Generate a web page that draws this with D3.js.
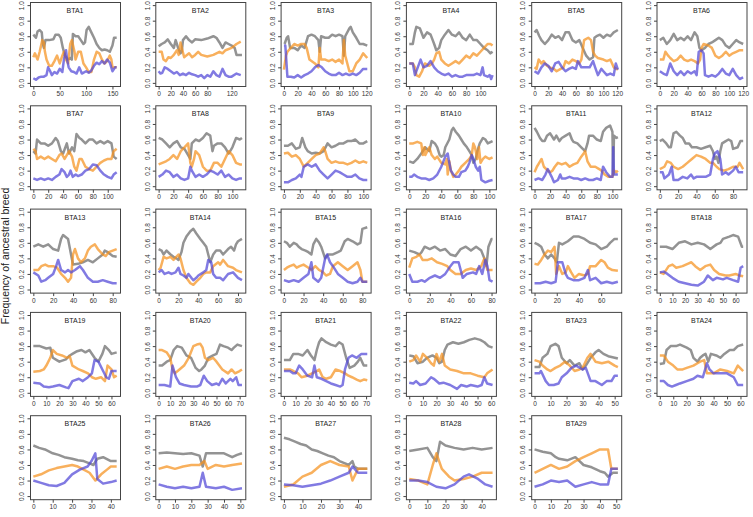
<!DOCTYPE html>
<html><head><meta charset="utf-8">
<script src="https://cdn.jsdelivr.net/npm/d3@7"></script>
<style>body{margin:0;background:#fff}svg{display:block}text{font-family:"Liberation Sans",Arial,sans-serif}</style>
</head><body><svg id="c" width="753" height="517"></svg>
<script>
const chromNames = ["BTA1","BTA2","BTA3","BTA4","BTA5","BTA6","BTA7","BTA8","BTA9","BTA10","BTA11","BTA12","BTA13","BTA14","BTA15","BTA16","BTA17","BTA18","BTA19","BTA20","BTA21","BTA22","BTA23","BTA24","BTA25","BTA26","BTA27","BTA28","BTA29"];
const chromLengths = [158,137,121,117,121,120,112,113,105,104,107,91,84,84,85,81,75,66,64,72,71,61,52,62,43,51,45,46,51];
const xTickValues = [
[0,50,100,150],[0,20,40,60,80,120],[0,20,40,60,80,100,120],[0,20,40,60,80,100],[0,20,40,60,80,100,120],[0,20,40,60,80,100,120],
[0,20,40,60,80,100],[0,20,40,60,80,100],[0,20,40,60,80,100],[0,20,40,60,80,100],[0,20,40,60,80,100],[0,20,40,60,80],
[0,20,40,60,80],[0,20,40,60,80],[0,20,40,60,80],[0,20,40,60,80],[0,20,40,60],[0,10,20,30,40,50,60],
[0,10,20,30,40,50,60],[0,10,20,30,40,50,60,70],[0,10,20,30,40,50,60,70],[0,10,20,30,40,50,60],[0,10,20,30,40,50],[0,10,20,30,40,50,60],
[0,10,20,30,40],[0,10,20,30,40,50],[0,10,20,30,40],[0,10,20,30,40],[0,10,20,30,40,50]];
const yTickValues = [0,0.2,0.4,0.6,0.8,1.0];

// flattened [position(Mb), frequency] pairs
const grayFreq = [
[0,.62,5,.58,8,.66,12,.68,16,.65,18,.5,20,.45,23,.55,30,.55,38,.56,42,.62,48,.62,52,.58,56,.45,60,.35,65,.3,70,.32,73,.3,75,.63,80,.6,85,.6,90,.55,95,.5,98,.52,101,.68,105,.72,110,.65,115,.58,120,.5,125,.45,130,.42,135,.43,140,.42,145,.4,150,.48,153,.58,158,.58],
[0,.47,5,.5,10,.52,15,.56,20,.5,25,.45,28,.55,32,.45,36,.38,38,.4,40,.55,45,.6,50,.55,55,.52,60,.56,70,.55,80,.57,90,.6,95,.58,100,.52,105,.45,110,.52,115,.5,120,.48,125,.45,128,.36,137,.36],
[1,.5,4,.58,6,.6,9,.45,15,.45,20,.42,25,.48,30,.45,35,.6,40,.62,45,.6,50,.55,52,.4,54,.6,60,.58,65,.58,70,.62,75,.6,80,.62,85,.6,87,.35,89,.6,95,.7,97,.72,100,.65,105,.58,110,.5,115,.5,121,.48],
[0,.5,5,.5,8,.65,10,.72,15,.7,20,.58,25,.65,30,.62,35,.5,38,.42,42,.45,45,.55,50,.62,55,.68,60,.62,65,.6,70,.65,75,.58,80,.55,85,.62,90,.55,95,.55,100,.5,105,.45,110,.42,114,.38,117,.4],
[0,.65,3,.68,7,.6,10,.55,15,.5,20,.55,25,.62,30,.58,35,.6,40,.55,45,.65,50,.65,55,.55,60,.52,65,.55,70,.45,75,.35,80,.3,85,.33,87,.58,90,.6,95,.62,100,.58,105,.62,110,.6,115,.65,121,.68],
[0,.55,5,.58,10,.5,15,.55,20,.63,25,.55,30,.58,35,.55,40,.6,45,.55,50,.65,54,.6,57,.45,60,.42,65,.45,70,.5,75,.52,80,.55,85,.58,90,.55,95,.48,100,.45,105,.5,110,.55,115,.52,120,.5],
[0,.45,3,.42,5,.6,10,.55,15,.55,20,.52,25,.55,30,.62,33,.58,37,.45,40,.42,43,.5,45,.55,48,.42,52,.5,55,.45,58,.67,62,.62,65,.6,70,.55,75,.6,80,.6,85,.55,90,.58,95,.55,100,.58,105,.55,108,.38,112,.35],
[0,.62,5,.6,10,.55,15,.5,20,.55,25,.58,30,.5,35,.48,40,.4,43,.35,45,.55,50,.6,55,.58,60,.62,65,.68,70,.65,73,.45,75,.52,80,.55,85,.55,90,.5,95,.42,100,.5,105,.62,110,.6,113,.62],
[0,.52,5,.52,10,.55,15,.48,20,.5,23,.62,27,.5,30,.45,35,.42,40,.43,45,.42,50,.45,55,.55,60,.5,65,.52,70,.55,75,.55,80,.58,85,.58,90,.6,95,.55,100,.55,105,.58],
[0,.32,5,.3,10,.35,15,.42,20,.5,25,.45,28,.58,32,.55,35,.5,38,.4,40,.38,43,.4,45,.5,50,.6,53,.72,55,.75,58,.7,62,.65,65,.6,68,.55,72,.5,75,.45,78,.4,80,.3,83,.35,85,.45,88,.55,92,.62,95,.6,98,.55,104,.58],
[0,.75,3,.7,7,.62,10,.58,13,.58,16,.65,20,.68,25,.6,28,.65,32,.58,35,.62,40,.65,45,.68,48,.6,50,.57,55,.55,60,.5,65,.45,68,.55,70,.65,75,.65,80,.6,85,.58,88,.7,92,.75,97,.78,100,.7,101,.15,102,.65,105,.62,107,.63],
[0,.58,3,.6,7,.55,10,.5,12,.5,15,.68,18,.7,22,.65,25,.62,28,.55,32,.55,35,.5,40,.5,45,.48,50,.5,55,.52,58,.45,60,.35,62,.38,64,.3,66,.45,68,.55,72,.58,75,.6,78,.58,80,.48,85,.5,88,.58,91,.58],
[0,.55,5,.58,10,.55,15,.58,20,.52,25,.5,28,.65,30,.7,35,.65,38,.45,40,.32,45,.33,50,.35,55,.38,60,.35,65,.4,70,.45,72,.5,75,.48,80,.43,84,.42],
[0,.52,3,.5,5,.45,8,.5,12,.45,15,.42,18,.4,20,.38,23,.48,25,.6,28,.68,32,.75,35,.78,38,.72,42,.65,45,.6,48,.55,50,.45,52,.35,55,.45,58,.5,62,.5,65,.45,70,.52,73,.55,76,.5,78,.58,80,.62,84,.65],
[0,.62,3,.6,6,.55,10,.6,13,.58,15,.55,18,.52,22,.5,25,.48,28,.45,30,.58,33,.65,36,.6,38,.55,42,.4,45,.45,50,.45,55,.48,58,.5,62,.62,65,.65,70,.62,75,.58,78,.6,80,.78,85,.8],
[0,.5,5,.48,10,.45,12,.48,15,.55,20,.52,25,.55,30,.5,35,.52,40,.45,45,.43,50,.52,55,.55,60,.5,65,.55,70,.5,73,.4,75,.3,77,.55,80,.65,81,.65],
[0,.6,3,.58,6,.55,9,.45,12,.4,15,.45,18,.4,20,.35,22,.6,25,.58,30,.62,35,.68,40,.68,45,.65,50,.6,55,.58,60,.52,65,.55,68,.6,72,.65,75,.65],
[0,.55,5,.55,10,.52,15,.6,20,.62,25,.58,30,.6,35,.58,40,.52,45,.58,48,.6,50,.65,55,.68,58,.7,62,.68,65,.55,66,.55],
[0,.6,5,.6,10,.57,13,.58,15,.45,18,.42,20,.4,25,.43,28,.48,30,.5,33,.53,37,.55,40,.52,43,.55,47,.45,50,.4,53,.5,55,.6,58,.55,60,.5,64,.52],
[0,.35,3,.35,7,.4,10,.42,13,.55,16,.6,20,.58,24,.48,28,.45,32,.32,35,.28,37,.3,40,.35,43,.45,47,.48,50,.5,53,.62,56,.6,60,.58,63,.55,65,.58,68,.62,72,.6],
[0,.42,5,.42,8,.5,12,.5,16,.48,20,.55,23,.48,26,.42,28,.55,30,.65,32,.7,36,.65,40,.62,44,.6,47,.65,50,.62,53,.45,56,.32,60,.35,63,.4,65,.45,68,.35,71,.35],
[0,.48,3,.47,6,.38,10,.4,13,.45,17,.48,20,.45,22,.38,24,.4,26,.55,28,.62,32,.65,36,.63,40,.65,44,.68,48,.7,52,.68,55,.65,58,.6,61,.58],
[0,.33,3,.33,5,.45,8,.5,10,.6,13,.63,15,.6,17,.45,20,.38,22,.42,25,.35,28,.38,30,.3,32,.35,35,.45,38,.52,40,.55,43,.5,46,.47,50,.45,52,.44],
[0,.37,3,.38,5,.55,8,.6,12,.6,15,.62,20,.58,23,.55,25,.45,28,.4,30,.45,32,.48,34,.5,36,.4,38,.5,42,.48,45,.45,48,.5,52,.55,55,.55,58,.6,62,.62],
[0,.65,3,.62,6,.6,10,.55,13,.53,16,.5,20,.48,23,.46,26,.45,29,.42,31,.4,33,.48,36,.5,40,.45,43,.45],
[0,.55,5,.56,10,.55,15,.54,20,.55,25,.52,27,.38,29,.55,35,.55,40,.55,45,.5,48,.53,51,.55],
[0,.75,3,.73,6,.7,9,.67,12,.65,15,.6,18,.58,21,.55,24,.52,27,.5,30,.45,33,.42,35,.4,37,.45,38,.38,40,.35,45,.35],
[0,.58,5,.6,10,.62,13,.5,15,.45,17,.7,20,.65,25,.62,30,.6,35,.62,40,.6,46,.62],
[0,.6,5,.57,10,.55,13,.5,15,.48,20,.46,25,.5,30,.4,35,.37,40,.32,43,.3,45,.25,48,.3,51,.3]];

const orangeFreq = [
[0,.33,3,.38,8,.3,12,.4,17,.55,20,.52,22,.4,25,.3,30,.22,35,.22,40,.28,45,.35,50,.25,55,.35,58,.4,62,.3,66,.25,70,.5,73,.55,78,.4,80,.3,85,.4,90,.4,95,.25,100,.2,105,.14,110,.14,112,.2,115,.3,120,.4,125,.38,130,.3,135,.25,140,.28,145,.35,148,.3,150,.2,158,.2],
[0,.4,5,.4,8,.3,12,.28,16,.33,20,.32,25,.36,30,.42,33,.36,36,.52,38,.45,42,.33,45,.35,50,.38,55,.33,60,.36,65,.4,70,.36,80,.34,90,.36,95,.38,100,.4,105,.38,110,.42,120,.45,128,.5,135,.53],
[0,.17,3,.35,5,.4,10,.45,15,.5,20,.48,25,.5,30,.5,33,.45,37,.3,45,.25,50,.2,52,.45,54,.3,60,.3,65,.28,70,.3,75,.27,80,.3,85,.25,87,.55,89,.35,95,.15,100,.15,105,.25,110,.3,115,.38,121,.32],
[0,.25,5,.25,8,.2,10,.1,14,.08,18,.15,22,.25,28,.22,32,.25,35,.3,38,.38,42,.4,45,.3,50,.25,55,.22,60,.25,65,.28,70,.25,75,.3,80,.35,85,.32,90,.38,95,.35,100,.4,105,.45,110,.5,114,.5,117,.48],
[0,.2,3,.18,6,.3,10,.25,13,.28,18,.22,22,.2,28,.18,32,.15,38,.18,42,.2,45,.28,50,.25,55,.3,60,.28,65,.25,68,.3,72,.55,78,.58,82,.55,85,.4,88,.35,92,.32,100,.3,105,.28,110,.3,115,.2,121,.17],
[0,.3,5,.3,8,.4,12,.35,15,.32,20,.28,25,.3,30,.35,35,.3,40,.28,45,.3,50,.28,55,.25,58,.3,60,.45,63,.5,70,.48,75,.45,80,.35,85,.32,90,.35,95,.4,100,.35,105,.38,110,.4,115,.42,120,.42],
[0,.48,3,.45,5,.35,10,.38,15,.35,20,.38,25,.35,30,.32,35,.4,38,.42,42,.35,45,.4,48,.45,52,.38,55,.25,58,.2,62,.35,65,.35,70,.25,75,.22,80,.2,85,.25,90,.3,95,.33,100,.35,105,.35,108,.45,112,.48],
[0,.28,5,.3,10,.32,15,.35,20,.4,25,.35,30,.45,35,.5,40,.55,43,.3,45,.25,48,.35,50,.45,55,.4,60,.25,65,.2,70,.2,75,.3,80,.3,85,.25,90,.35,95,.45,100,.4,105,.3,110,.28,113,.28],
[0,.42,5,.43,10,.38,15,.4,20,.35,25,.25,30,.3,35,.35,40,.4,45,.42,50,.5,52,.45,55,.35,60,.3,65,.32,70,.3,75,.3,80,.28,85,.3,90,.33,95,.3,100,.32,105,.3],
[0,.55,5,.55,10,.57,15,.55,17,.4,19,.5,20,.4,25,.5,28,.4,32,.35,35,.38,40,.3,45,.28,47,.35,48,.15,50,.32,52,.2,55,.12,58,.15,62,.2,65,.25,70,.3,75,.35,78,.4,80,.55,82,.5,85,.35,87,.5,89,.3,92,.35,95,.38,100,.35,104,.37],
[0,.18,3,.25,6,.3,9,.35,12,.25,17,.2,20,.18,23,.2,26,.25,30,.3,35,.28,40,.3,45,.25,50,.28,55,.3,60,.38,63,.42,65,.45,68,.32,72,.25,78,.25,83,.22,86,.2,90,.15,95,.12,100,.12,102,.2,105,.18,107,.2],
[0,.22,5,.25,8,.32,12,.3,15,.25,20,.22,25,.25,30,.3,35,.35,40,.4,45,.38,50,.35,55,.3,58,.3,62,.25,65,.22,70,.2,75,.22,80,.25,85,.25,87,.3,91,.22],
[0,.25,5,.25,8,.3,12,.32,15,.3,20,.3,24,.28,28,.2,32,.15,35,.1,38,.15,40,.45,42,.52,45,.4,48,.35,52,.4,55,.5,58,.55,62,.58,65,.52,70,.45,73,.43,76,.48,80,.5,84,.52],
[0,.25,2,.28,5,.42,8,.4,12,.42,15,.38,20,.45,22,.4,25,.25,28,.15,32,.08,35,.06,38,.1,42,.15,45,.2,48,.22,52,.22,55,.3,60,.35,62,.32,65,.38,70,.3,75,.28,78,.25,84,.22],
[0,.25,3,.28,6,.3,10,.32,13,.28,16,.3,20,.32,25,.28,28,.25,32,.3,36,.25,40,.22,43,.18,47,.2,50,.3,55,.35,60,.3,65,.25,70,.3,75,.35,78,.25,80,.1,85,.1],
[0,.28,3,.4,7,.42,10,.45,13,.38,18,.38,22,.4,27,.35,32,.33,37,.3,40,.25,45,.2,50,.2,55,.25,60,.27,65,.25,70,.3,73,.4,76,.25,80,.25,81,.25],
[0,.33,3,.32,6,.38,9,.45,12,.5,15,.48,18,.55,19.5,.2,22,.3,25,.2,28,.22,30,.3,33,.22,36,.15,40,.2,45,.18,48,.2,50,.3,55,.3,60,.38,63,.35,66,.28,70,.25,75,.24],
[0,.22,3,.2,7,.3,10,.32,13,.28,18,.3,22,.33,25,.35,28,.3,32,.25,36,.3,40,.32,43,.25,47,.2,52,.18,55,.18,60,.2,63,.18,66,.17],
[0,.27,5,.28,8,.3,10,.35,13,.45,15,.55,18,.5,22,.48,26,.45,28,.47,30,.35,35,.3,38,.28,42,.25,45,.2,48,.18,52,.2,55,.15,57,.35,60,.3,62,.2,64,.22],
[0,.55,3,.55,7,.52,10,.45,12,.3,14,.25,18,.3,22,.35,26,.45,30,.6,33,.62,36,.63,38,.58,40,.45,43,.42,47,.45,50,.4,55,.3,60,.25,63,.3,66,.25,70,.28,72,.3],
[0,.3,5,.3,8,.28,12,.25,15,.2,20,.22,24,.25,28,.28,30,.3,33,.2,36,.18,40,.2,44,.3,48,.28,52,.25,55,.22,58,.2,62,.17,65,.15,68,.17,71,.16],
[0,.4,3,.42,5,.48,8,.4,10,.5,13,.45,16,.38,18,.35,20,.5,22,.4,24,.5,26,.35,30,.3,35,.28,40,.25,45,.25,50,.22,55,.2,57,.25,61,.3],
[0,.42,3,.4,5,.35,8,.3,10,.28,13,.32,16,.35,19,.4,22,.35,25,.28,28,.3,30,.32,33,.45,35,.5,38,.4,42,.38,46,.4,50,.35,52,.33],
[0,.48,3,.48,6,.4,10,.35,13,.3,17,.3,20,.32,25,.35,28,.38,30,.4,33,.42,35,.25,40,.25,45,.3,50,.28,55,.25,58,.35,62,.28],
[0,.25,4,.28,8,.33,12,.36,16,.38,20,.4,23,.38,26,.34,29,.3,32,.2,35,.28,38,.34,40,.38,43,.38],
[0,.35,5,.38,10,.35,15,.38,20,.4,25,.4,28,.45,30,.35,35,.4,40,.38,45,.4,51,.42],
[0,.12,5,.15,10,.25,15,.3,20,.4,25,.45,30,.4,35,.38,37,.2,40,.35,45,.35],
[0,.22,5,.2,10,.15,13,.4,15,.55,18,.35,22,.25,25,.2,30,.22,35,.25,40,.3,46,.3],
[0,.3,5,.35,10,.4,15,.35,20,.38,25,.45,30,.5,35,.55,40,.6,45,.6,47,.35,51,.35]];

const blueFreq = [
[0,.06,5,.04,10,.07,15,.08,20,.08,25,.1,28,.2,32,.15,35,.1,40,.14,45,.12,50,.18,55,.14,58,.3,62,.42,64,.3,67,.2,72,.15,77,.14,82,.12,87,.2,92,.12,100,.15,105,.13,110,.16,115,.22,120,.26,125,.24,130,.28,135,.25,140,.3,145,.26,150,.15,155,.2,158,.2],
[0,.15,3,.12,6,.13,10,.2,15,.18,20,.15,25,.12,30,.14,35,.1,40,.12,45,.1,50,.13,55,.11,60,.1,65,.08,70,.1,75,.06,80,.1,85,.08,90,.15,95,.1,100,.08,105,.18,110,.1,115,.08,120,.08,128,.12,135,.1],
[0,.48,2,.48,3,.35,5,.08,10,.08,15,.07,20,.1,25,.07,30,.1,35,.12,40,.15,45,.2,50,.23,55,.2,60,.15,65,.12,70,.1,75,.1,80,.13,85,.1,90,.12,95,.1,100,.12,105,.1,110,.13,115,.18,121,.18],
[0,.25,5,.25,8,.1,12,.2,16,.3,20,.2,25,.22,30,.28,35,.2,40,.15,45,.12,50,.1,55,.12,60,.08,65,.1,70,.08,75,.08,80,.1,90,.1,95,.12,100,.1,103,.2,105,.1,110,.08,113,.1,115,.05,117,.1],
[0,.15,5,.12,10,.2,15,.25,20,.22,25,.15,30,.25,35,.27,40,.2,45,.15,50,.18,55,.2,60,.18,63,.28,68,.2,75,.2,80,.2,85,.28,88,.2,92,.1,97,.18,100,.15,105,.1,110,.12,115,.1,118,.25,121,.17],
[0,.15,5,.12,10,.1,15,.25,20,.15,25,.1,30,.15,35,.1,40,.15,45,.12,50,.15,53,.1,56,.4,60,.42,63,.38,65,.1,70,.08,75,.1,80,.08,85,.12,90,.18,95,.12,100,.1,105,.18,110,.1,115,.05,120,.07],
[0,.1,5,.08,10,.1,15,.08,20,.1,25,.08,30,.12,35,.15,38,.22,42,.18,45,.12,48,.15,50,.2,53,.12,57,.15,60,.13,65,.15,70,.2,75,.22,80,.28,85,.27,90,.2,95,.15,100,.12,105,.1,108,.15,112,.18],
[0,.12,5,.15,10,.2,15,.18,20,.12,25,.15,30,.1,35,.08,40,.1,43,.25,45,.2,50,.12,55,.15,60,.12,65,.15,70,.2,75,.18,80,.15,85,.2,90,.12,95,.15,100,.1,105,.08,110,.1,113,.1],
[0,.05,5,.05,10,.08,15,.1,20,.15,22,.12,25,.25,30,.28,35,.25,40,.28,45,.2,50,.15,55,.1,60,.15,65,.2,70,.18,75,.15,80,.12,85,.12,90,.15,95,.1,100,.08,105,.08],
[0,.12,3,.12,6,.15,10,.12,15,.1,20,.1,25,.08,30,.1,35,.15,40,.25,45,.38,48,.42,50,.3,52,.2,55,.15,58,.12,62,.12,65,.18,70,.2,73,.25,75,.3,78,.4,80,.35,83,.25,86,.2,88,.25,90,.08,95,.05,100,.07,104,.08],
[0,.08,5,.1,10,.08,14,.15,17,.22,22,.12,25,.05,30,.08,33,.15,35,.1,40,.1,45,.12,50,.1,55,.1,60,.08,65,.1,70,.08,75,.08,80,.1,85,.08,88,.25,92,.18,97,.12,100,.12,101,.5,102,.15,107,.15],
[0,.18,3,.18,5,.1,10,.15,13,.25,15,.08,20,.08,25,.12,30,.1,34,.15,37,.1,40,.12,50,.12,55,.15,58,.35,60,.42,63,.45,66,.35,68,.15,72,.18,75,.15,80,.2,83,.25,86,.18,91,.18],
[0,.22,5,.18,8,.1,12,.12,15,.15,20,.2,23,.3,25,.38,28,.25,32,.22,35,.25,38,.22,42,.25,47,.3,50,.25,55,.15,60,.1,65,.1,70,.12,75,.1,80,.08,84,.08],
[0,.22,3,.25,6,.2,10,.22,13,.2,17,.22,20,.28,22,.2,25,.18,28,.15,30,.2,33,.15,35,.12,38,.15,40,.18,45,.22,48,.25,50,.38,53,.35,55,.2,58,.15,62,.15,65,.12,70,.2,75,.22,80,.15,84,.12],
[0,.12,5,.1,10,.12,15,.1,20,.15,25,.2,28,.35,30,.15,35,.1,38,.15,42,.4,44,.45,47,.35,50,.3,55,.2,60,.15,65,.1,70,.08,75,.1,78,.15,80,.1,85,.1],
[0,.2,3,.1,8,.1,12,.12,15,.1,20,.15,25,.18,30,.15,35,.2,40,.3,43,.35,48,.35,52,.15,56,.2,62,.22,65,.2,68,.3,71,.2,74,.38,76,.3,78,.12,81,.1],
[0,.08,5,.08,10,.1,15,.08,19,.1,21,.35,25,.35,28,.2,30,.15,35,.12,40,.12,45,.15,48,.25,50,.12,55,.15,60,.08,65,.1,70,.08,75,.1],
[0,.22,3,.23,6,.2,10,.15,15,.1,20,.08,25,.06,30,.05,35,.1,38,.18,42,.12,45,.15,50,.13,53,.15,58,.12,62,.1,64,.28,66,.3],
[0,.13,5,.12,8,.08,12,.07,15,.08,20,.1,25,.07,27,.06,30,.15,35,.18,38,.15,42,.2,45,.25,47,.42,50,.4,53,.3,56,.2,58,.18,60,.28,64,.28],
[0,.1,5,.1,10,.08,12,.35,15,.2,18,.12,22,.1,28,.08,33,.08,36,.1,39,.22,42,.15,46,.1,50,.12,52,.1,55,.18,58,.12,62,.18,64,.15,67,.2,69,.1,72,.1],
[0,.28,5,.28,8,.25,10,.25,13,.35,16,.3,20,.22,24,.2,26,.35,28,.2,32,.18,36,.15,40,.12,44,.1,48,.08,50,.1,52,.3,55,.45,58,.48,62,.45,66,.5,71,.5],
[0,.13,3,.12,5,.15,8,.1,12,.12,16,.2,18,.18,22,.12,25,.13,30,.1,35,.05,38,.1,42,.08,45,.1,50,.08,53,.1,55,.2,57,.12,61,.1],
[0,.25,3,.25,4,.28,7,.15,9,.1,12,.1,15,.12,17,.2,20,.25,23,.32,26,.35,30,.3,32,.32,35,.15,38,.15,42,.1,45,.15,48,.15,50,.22,52,.22],
[0,.15,3,.15,6,.1,9,.08,12,.1,15,.12,20,.15,25,.18,28,.22,32,.2,35,.38,37,.3,40,.25,45,.25,50,.25,55,.2,58,.1,62,.1],
[0,.2,4,.17,8,.14,12,.13,16,.17,20,.28,24,.34,28,.38,30,.45,32,.55,33,.22,36,.16,40,.18,43,.2],
[0,.15,5,.12,10,.1,15,.12,20,.1,25,.12,27,.3,29,.12,35,.1,40,.12,45,.08,51,.1],
[0,.15,5,.14,10,.12,15,.14,20,.16,25,.2,30,.25,35,.3,37,.38,40,.3,45,.3],
[0,.2,5,.2,10,.18,15,.12,20,.1,25,.15,30,.25,33,.28,38,.22,42,.15,46,.12],
[0,.12,5,.15,10,.2,15,.18,20,.2,25,.12,30,.15,35,.18,40,.15,45,.15,47,.35,51,.35]];

const seriesColors = ["rgb(105,105,105)","rgb(245,145,30)","rgb(80,70,215)"];

const svg = d3.select("#c");
const boxW = 90, boxH = 84, colStep = 125.3, rowStep = 103.3, left0 = 30, top0 = 2;
const pairs = a => d3.range(0, a.length, 2).map(i => [a[i], a[i+1]]);

chromNames.forEach((name, i) => {
  const col = i % 6, row = Math.floor(i / 6);
  const x0 = left0 + col * colStep, y0 = top0 + row * rowStep;
  const g = svg.append("g").attr("transform", `translate(${x0},${y0})`);
  const len = chromLengths[i];
  const padX = len * 0.04;
  const x = d3.scaleLinear().domain([-padX, len + padX]).range([0, boxW]);
  const y = d3.scaleLinear().domain([-0.04, 1.04]).range([boxH, 0]);
  const line = d3.line().x(d => x(d[0])).y(d => y(d[1]));
  [grayFreq, orangeFreq, blueFreq].forEach((s, k) => {
    g.append("path").attr("d", line(pairs(s[i])))
      .attr("fill", "none").attr("stroke", seriesColors[k])
      .attr("stroke-opacity", 0.72).attr("stroke-width", 2.5)
      .attr("stroke-linejoin", "round");
  });
  g.append("rect").attr("x", 0.5).attr("y", 0.5).attr("width", boxW).attr("height", boxH)
    .attr("fill", "none").attr("stroke", "#444").attr("stroke-width", 1);
  const xa = g.append("g").attr("transform", `translate(0,${boxH + 0.5})`)
    .call(d3.axisBottom(x).tickValues(xTickValues[i]).tickSize(3).tickPadding(2).tickFormat(d3.format("d")));
  const ya = g.append("g").attr("transform", `translate(0.5,0)`)
    .call(d3.axisLeft(y).tickValues(yTickValues).tickSize(3).tickPadding(2).tickFormat(d3.format(".1f")));
  [xa, ya].forEach(a => {
    a.select(".domain").remove();
    a.selectAll("line").attr("stroke", "#444");
    a.selectAll("text").attr("font-size", 6.5).attr("fill", "#333").attr("font-family", "Liberation Sans, Arial, sans-serif");
  });
  ya.selectAll(".tick text").attr("text-anchor", "middle").attr("x", null).attr("dy", null)
    .attr("transform", "translate(-8,0) rotate(-90)").attr("dominant-baseline", "middle");
  g.append("text").attr("x", boxW / 2).attr("y", 11).attr("text-anchor", "middle")
    .attr("font-size", 7).attr("fill", "#222").text(name);
});

svg.append("text").attr("transform", "translate(9,256) rotate(-90)").attr("text-anchor", "middle")
  .attr("font-size", 10.5).attr("fill", "#222").text("Frequency of ancestral breed");
</script></body></html>
